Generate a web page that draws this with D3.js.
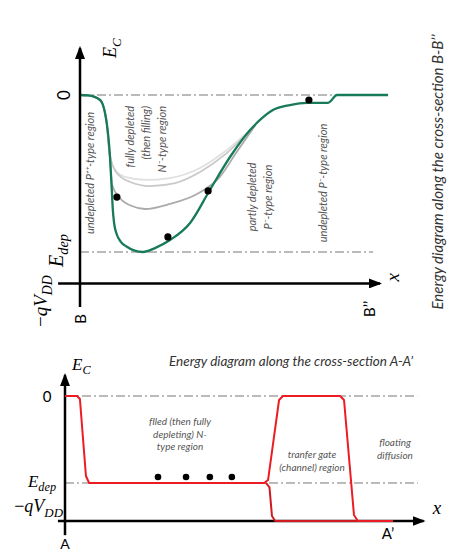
<!DOCTYPE html>
<html>
<head>
<meta charset="utf-8">
<script src="https://cdn.jsdelivr.net/npm/d3@7"></script>
<style>
    body { margin: 0; background: #fff; }
</style>
</head>
<body>
<div id="canvas"></div>
<script>
// energy unit: E_dep = -1, 0 = reference level; position in arbitrary units 0..100

/* cross-section B-B'' (top) */
let bbGreen = [[0, 0], [2.7, -0.003], [6.7, -0.032], [8.9, -0.178], [10, -0.395], [10.6, -0.605], [10.9, -0.72],
    [11.4, -0.82], [12.3, -0.89], [13.6, -0.935], [15.5, -0.965], [18, -0.99], [21, -1.0], [25, -0.975],
    [30, -0.924], [36.7, -0.815], [43.3, -0.605], [50, -0.395], [56.7, -0.223], [60, -0.159], [64.3, -0.096],
    [70, -0.064], [75.7, -0.05], [82.7, -0.05], [85.7, 0], [102.7, 0]];
let bbGrey1 = [[0, 0], [2.7, -0.003], [6.7, -0.032], [8.9, -0.178], [9.6, -0.33], [11.3, -0.465], [15, -0.522],
    [21.7, -0.541], [30, -0.529], [40, -0.465], [48.3, -0.36], [58.5, -0.19]];
let bbGrey2 = [[0, 0], [2.7, -0.003], [6.7, -0.032], [8.9, -0.178], [9.8, -0.37], [12, -0.49], [16.7, -0.554],
    [23.3, -0.58], [31.7, -0.561], [40, -0.49], [48.3, -0.38], [58.5, -0.19]];
let bbGrey3 = [[0, 0], [2.7, -0.003], [6.7, -0.032], [8.9, -0.178], [10, -0.41], [10.7, -0.573], [13.3, -0.656],
    [17.3, -0.707], [21.7, -0.726], [30, -0.694], [39, -0.631], [46.7, -0.52], [52, -0.37], [58.5, -0.19]];
let bbDots = [[12.3, -0.65], [42.7, -0.611], [29.3, -0.904], [76.3, -0.032]];
let bbQVdd = -1.2;

/* cross-section A-A' (bottom) */
let aaRed = [[0, 0], [3.4, 0], [4.2, -0.034], [5.9, -0.92], [6.8, -1], [56.1, -1], [57.2, -0.966], [60.3, -0.046],
    [61.4, 0], [77.5, 0], [78.6, -0.046], [81.4, -1.368], [82.5, -1.437], [92.4, -1.437]];
let aaRedLow = [[56.6, -1], [57.6, -1.05], [58.3, -1.38], [59.2, -1.437], [82.5, -1.437]];
let aaDots = [[26.2, -0.931], [34.1, -0.931], [40.8, -0.931], [47, -0.931]];
let aaQVdd = -1.437;

let eZero = 0;
let eDep = -1;

let width = 456;
let height = 553;
const serif = "'Liberation Serif', 'DejaVu Serif', serif";
const sans = "Lato, 'Open Sans', sans-serif";

let canvas = d3.select("#canvas")
    .append("svg")
    .attr("width", width)
    .attr("height", height);

canvas.append("defs").append("marker")
    .attr("id", "arrow")
    .attr("markerUnits", "userSpaceOnUse")
    .attr("markerWidth", 13).attr("markerHeight", 10)
    .attr("refX", 11).attr("refY", 5)
    .attr("orient", "auto")
    .append("path")
    .attr("d", "M0,0 L13,5 L0,10 Z")
    .attr("fill", "#000");

const xTop = d3.scaleLinear().domain([0, 100]).range([80, 380]);
const yTop = d3.scaleLinear().domain([bbQVdd, 0]).range([283.4, 95]);
const xBot = d3.scaleLinear().domain([0, 100]).range([65, 420]);
const yBot = d3.scaleLinear().domain([aaQVdd, 0]).range([521, 396]);

let dashLine = (x1, x2, y) => canvas.append("line")
    .attr("x1", x1).attr("x2", x2).attr("y1", y).attr("y2", y)
    .attr("stroke", "#777").attr("stroke-width", 1)
    .attr("stroke-dasharray", "9,3,2,3");

let axisLine = (x1, y1, x2, y2, arrow) => canvas.append("line")
    .attr("x1", x1).attr("y1", y1).attr("x2", x2).attr("y2", y2)
    .attr("stroke", "#000").attr("stroke-width", 2.5)
    .attr("marker-end", arrow ? "url(#arrow)" : null);

// math label: parts = [[text, isSub, italic]]
let mathText = (g, parts, size) => {
    let t = g.append("text").attr("font-family", serif).attr("font-size", size).attr("fill", "#000");
    parts.forEach(p => {
        t.append("tspan")
            .text(p[0])
            .attr("font-style", p[2] === false ? "normal" : "italic")
            .attr("font-size", p[1] ? size * 0.72 : size)
            .attr("dy", p[1] ? size * 0.25 : null);
    });
    return t;
}

let rotated = (x, y) => canvas.append("g").attr("transform", `translate(${x},${y}) rotate(-90)`);

let regionLabel = (g, lines, x, y, anchor, size, step) => {
    g.selectAll(null)
        .data(lines)
        .enter()
        .append("text")
        .attr("x", x)
        .attr("y", (d, i) => y + i * step)
        .attr("text-anchor", anchor)
        .attr("font-family", sans)
        .attr("font-style", "italic")
        .attr("font-size", size)
        .attr("fill", "#555")
        .text(d => d);
}

/* ---------- top diagram (B-B'') ---------- */
dashLine(xTop(0), xTop(85.7), yTop(eZero));
dashLine(xTop(0), xTop(97.7), yTop(eDep));

let lineTop = d3.line()
    .x(d => xTop(d[0]))
    .y(d => yTop(d[1]))
    .curve(d3.curveMonotoneX);

[[bbGrey1, "#e0e0e0"], [bbGrey2, "#c9c9c9"], [bbGrey3, "#ababab"]].forEach(s => {
    canvas.append("path").attr("d", lineTop(s[0]))
        .attr("fill", "none").attr("stroke", s[1]).attr("stroke-width", 1.8);
});
canvas.append("path").attr("d", lineTop(bbGreen))
    .attr("fill", "none").attr("stroke", "#177a5a").attr("stroke-width", 2.3);

canvas.selectAll(".bbdot")
    .data(bbDots)
    .enter()
    .append("circle")
    .attr("cx", d => xTop(d[0]))
    .attr("cy", d => yTop(d[1]))
    .attr("r", 3.6)
    .attr("fill", "#000");

axisLine(xTop(0), yTop(-1.35), xTop(0), yTop(0.3), true);
axisLine(xTop(-7.3), yTop(bbQVdd), xTop(100), yTop(bbQVdd), true);

mathText(rotated(116, 58), [["E"], ["C", true]], 18);
rotated(70, yTop(eZero)).append("text").attr("text-anchor", "middle")
    .attr("font-family", sans).attr("font-size", 17).text("0");
mathText(rotated(63, 267), [["E"], ["dep", true]], 20);
mathText(rotated(47, 327), [["\u2212", false, false], ["qV"], ["DD", true]], 19);
rotated(399, yTop(bbQVdd) - 6).append("text").attr("text-anchor", "middle")
    .attr("font-family", serif).attr("font-style", "italic").attr("font-size", 19).text("x");
rotated(86, 319).append("text").attr("text-anchor", "middle")
    .attr("font-family", sans).attr("font-size", 15).text("B");
rotated(375, 317).append("text")
    .attr("font-family", sans).attr("font-size", 15).text("B\u2019\u2019");

regionLabel(rotated(94, 0), ["undepleted P\u207A\u207A-type region"], -173, 0, "middle", 11, 15);
regionLabel(rotated(134, 0), ["fully depleted", "(then filling)", "N\u207B-type region"], -106, 0, "end", 11, 16);
regionLabel(rotated(256, 0), ["partly depleted", "P\u207B-type region"], -197, 0, "middle", 11, 16);
regionLabel(rotated(327, 0), ["undepleted P\u207B-type region"], -183, 0, "middle", 11, 15);

rotated(443, 172).append("text")
    .attr("text-anchor", "middle")
    .attr("font-family", sans).attr("font-style", "italic").attr("font-size", 15)
    .attr("fill", "#333")
    .text("Energy diagram along the cross-section B-B\u2019\u2019");

/* ---------- bottom diagram (A-A') ---------- */
dashLine(xBot(0), xBot(99.2), yBot(eZero));
dashLine(xBot(0), xBot(99.4), yBot(eDep));

axisLine(xBot(0), yBot(-1.6), xBot(0), yBot(0.24), true);
axisLine(xBot(-2), yBot(aaQVdd), xBot(101), yBot(aaQVdd), true);

let lineBot = d3.line()
    .x(d => xBot(d[0]))
    .y(d => yBot(d[1]));

canvas.append("path").attr("d", lineBot(aaRedLow))
    .attr("fill", "none").attr("stroke", "#d01a1f").attr("stroke-width", 2)
    .attr("stroke-linejoin", "round");
canvas.append("path").attr("d", lineBot(aaRed))
    .attr("fill", "none").attr("stroke", "#ec1c24").attr("stroke-width", 2)
    .attr("stroke-linejoin", "round");

canvas.selectAll(".aadot")
    .data(aaDots)
    .enter()
    .append("circle")
    .attr("cx", d => xBot(d[0]))
    .attr("cy", d => yBot(d[1]))
    .attr("r", 3.3)
    .attr("fill", "#000");

mathText(canvas.append("g").attr("transform", "translate(72,370)"), [["E"], ["C", true]], 17);
canvas.append("text").attr("x", 47).attr("y", yBot(eZero) + 6).attr("text-anchor", "middle")
    .attr("font-family", sans).attr("font-size", 15).text("0");
mathText(canvas.append("g").attr("transform", "translate(56,487)"), [["E"], ["dep", true]], 17)
    .attr("text-anchor", "end");
mathText(canvas.append("g").attr("transform", "translate(63,512)"), [["\u2212", false, false], ["qV"], ["DD", true]], 18)
    .attr("text-anchor", "end");
canvas.append("text").attr("x", 437).attr("y", 514).attr("text-anchor", "middle")
    .attr("font-family", serif).attr("font-style", "italic").attr("font-size", 19).text("x");
canvas.append("text").attr("x", 65).attr("y", 549).attr("text-anchor", "middle")
    .attr("font-family", sans).attr("font-size", 14).text("A");
canvas.append("text").attr("x", 388).attr("y", 539).attr("text-anchor", "middle")
    .attr("font-family", sans).attr("font-size", 15).text("A\u2019");

canvas.append("text").attr("x", 291).attr("y", 366).attr("text-anchor", "middle")
    .attr("font-family", sans).attr("font-style", "italic").attr("font-size", 13.5)
    .attr("fill", "#333")
    .text("Energy diagram along the cross-section A-A\u2019");

regionLabel(canvas, ["fIled (then fully", "depleting) N-", "type region"], 180, 425, "middle", 10, 12.5);
regionLabel(canvas, ["tranfer gate", "(channel) region"], 312, 458, "middle", 10, 12.5);
regionLabel(canvas, ["floating", "diffusion"], 395, 446, "middle", 10, 12.5);
</script>
</body>
</html>
